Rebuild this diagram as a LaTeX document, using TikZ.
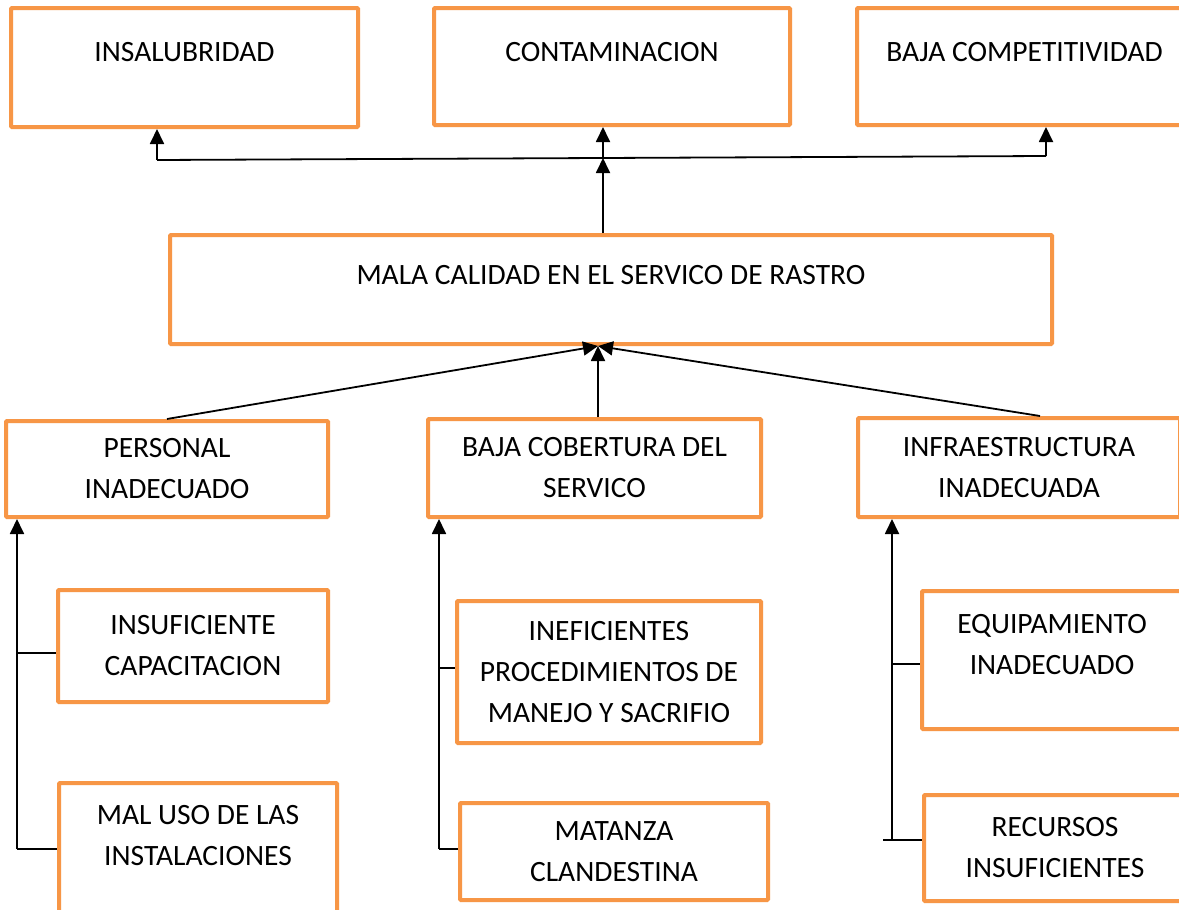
\documentclass[tikz,border=0pt]{standalone}
\usepackage{fontspec}
\setmainfont{Carlito}
\usepackage{tikz}
\usetikzlibrary{arrows.meta, positioning, calc}
\definecolor{boxorange}{HTML}{F79646}

\begin{document}
\begin{tikzpicture}[x=1pt, y=-1pt,
  box/.style={draw=boxorange, line width=4pt, rounded corners=1pt, fill=white, align=center, inner sep=0pt, font=\fontsize{29.5}{41}\selectfont},
  raised/.style={text depth=#1},
  arr/.style={-{Triangle[length=15pt, width=14pt]}, line width=1.8pt},
  link/.style={line width=1.8pt}]
  \useasboundingbox (0,0) rectangle (1179,910);
  \fill[white] (0,0) rectangle (1179,910);
  \clip (0,0) rectangle (1179,910);
  \node[box, minimum width=347pt, minimum height=119pt, raised=31pt] (insal) at (184.5,67.5) {INSALUBRIDAD};
  \node[box, minimum width=356pt, minimum height=117pt, raised=29pt] (contam) at (612,66.5) {CONTAMINACION};
  \node[box, minimum width=335pt, minimum height=117pt, raised=29pt] (bajacomp) at (1024.5,66.5) {BAJA COMPETITIVIDAD};
  \node[box, minimum width=882pt, minimum height=109pt, raised=29pt] (mala) at (611,289.5) {MALA CALIDAD EN EL SERVICO DE RASTRO};
  \node[box, minimum width=322pt, minimum height=96pt] (personal) at (167,469) {PERSONAL\\INADECUADO};
  \node[box, minimum width=333pt, minimum height=98pt] (cobertura) at (594.5,468) {BAJA COBERTURA DEL\\SERVICO};
  \node[box, minimum width=322pt, minimum height=99pt] (infra) at (1019,467.5) {INFRAESTRUCTURA\\INADECUADA};
  \node[box, minimum width=270pt, minimum height=112pt] (insuf) at (193,646) {INSUFICIENTE\\CAPACITACION};
  \node[box, minimum width=278pt, minimum height=150pt, raised=45pt] (maluso) at (198,858) {MAL USO DE LAS\\INSTALACIONES};
  \node[box, minimum width=304pt, minimum height=142pt] (inef) at (609,672) {INEFICIENTES\\PROCEDIMIENTOS DE\\MANEJO Y SACRIFIO};
  \node[box, minimum width=308pt, minimum height=97pt] (matanza) at (614,851.5) {MATANZA\\CLANDESTINA};
  \node[box, minimum width=260pt, minimum height=138pt, raised=31pt] (equip) at (1052,660) {EQUIPAMIENTO\\INADECUADO};
  \node[box, minimum width=262pt, minimum height=106pt] (recursos) at (1055,848) {RECURSOS\\INSUFICIENTES};
  \coordinate (busL) at (157,160);
  \coordinate (busM) at (603,158);
  \coordinate (busR) at (1046,156);
  \draw[link] (busL) -- (busR);
  \draw[arr] (busL) -- (busL |- insal.south);
  \draw[arr] (busM) -- (busM |- contam.south);
  \draw[arr] (busR) -- (busR |- bajacomp.south);
  \draw[arr] (busM |- mala.north) -- (busM);
  \coordinate (hub) at ([xshift=-13pt]mala.south);
  \draw[arr] (personal.north) -- (hub);
  \draw[arr] (hub |- cobertura.north) -- (hub);
  \draw[arr] ([xshift=21pt]infra.north) -- (hub);
  \coordinate (spA) at (17,849);
  \coordinate (brA) at (17,653);
  \draw[arr] (spA) -- (spA |- personal.south);
  \draw[link] (brA) -- (brA -| insuf.west);
  \draw[link] (spA) -- (spA -| maluso.west);
  \coordinate (spB) at (439,849);
  \coordinate (brB) at (439,668);
  \draw[arr] (spB) -- (spB |- cobertura.south);
  \draw[link] (brB) -- (brB -| inef.west);
  \draw[link] (spB) -- (spB -| matanza.west);
  \coordinate (spC) at (892,840);
  \coordinate (brC) at (892,664);
  \coordinate (tickC) at (883,840);
  \draw[arr] (spC) -- (spC |- infra.south);
  \draw[link] (brC) -- (brC -| equip.west);
  \draw[link] (tickC) -- (tickC -| recursos.west);
\end{tikzpicture}
\end{document}
